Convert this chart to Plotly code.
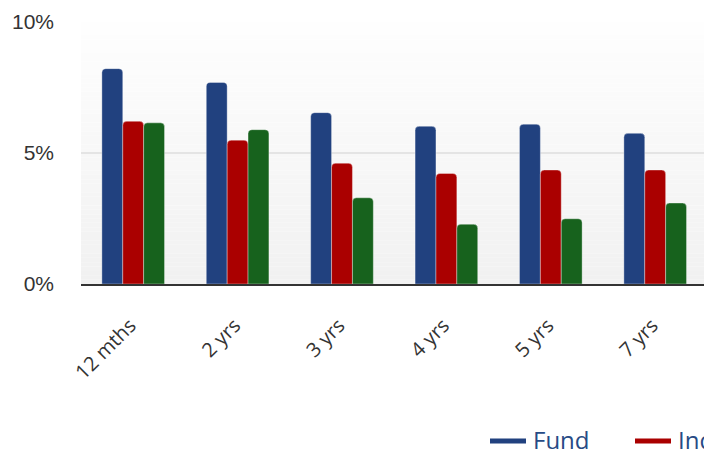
import plotly.graph_objects as go

# Annualised returns by period
periods = ["12 mths", "2 yrs", "3 yrs", "4 yrs", "5 yrs", "7 yrs"]
series_names = ["Fund", "Index", "Sector"]
fund = [8.22, 7.69, 6.54, 6.02, 6.10, 5.75]
index = [6.21, 5.49, 4.61, 4.22, 4.35, 4.35]
sector = [6.15, 5.89, 3.29, 2.28, 2.49, 3.09]
y_ticks = [0, 5, 10]
y_tick_text = ["0%", "5%", "10%"]

colors = ["#21417f", "#aa0000", "#17621d"]
values = [fund, index, sector]

W, H = 704, 454
L, T, B = 81, 22, 170
plot_w = W - L
plot_h = H - T - B

fig = go.Figure()
for name, vals, col in zip(series_names, values, colors):
    fig.add_trace(go.Bar(
        x=periods, y=vals, name=name, showlegend=False,
        marker=dict(color=col, line=dict(color="rgba(255,255,255,0.35)", width=1)),
        hoverinfo="skip",
    ))

# soft vertical gradient behind the plot area
shapes = []
n = 60
for i in range(n):
    t = i / (n - 1)
    v = round(0xfe - (0xfe - 0xf1) * t)
    c = f"rgb({v},{v},{v})"
    shapes.append(dict(
        type="rect", xref="x domain", yref="y domain",
        x0=0, x1=1, y0=1 - (i + 1) / n, y1=1 - i / n,
        fillcolor=c, line=dict(width=0), layer="below",
    ))

# legend drawn as line swatches with labels
annotations = []
leg_y = (T + plot_h - 441) / plot_h
txt_y = (T + plot_h - 440) / plot_h
start_px, step_px = 490, 145
for i, (name, col) in enumerate(zip(series_names, colors)):
    x0 = start_px + i * step_px
    shapes.append(dict(
        type="line", xref="paper", yref="paper",
        x0=(x0 - L) / plot_w, x1=(x0 + 36 - L) / plot_w, y0=leg_y, y1=leg_y,
        line=dict(color=col, width=5),
    ))
    annotations.append(dict(
        xref="paper", yref="paper", x=(x0 + 42 - L) / plot_w, y=txt_y,
        xanchor="left", yanchor="middle", text=name, showarrow=False,
        borderpad=0,
        font=dict(family="Open Sans", size=24, color="#274b85"),
    ))

fig.update_layout(
    width=W, height=H,
    margin=dict(l=L, r=0, t=T, b=B, pad=0),
    paper_bgcolor="white",
    plot_bgcolor="rgba(0,0,0,0)",
    barmode="group", bargap=0.4, bargroupgap=0,
    barcornerradius=4,
    shapes=shapes, annotations=annotations,
    showlegend=False,
)
fig.update_xaxes(
    range=[-0.5, -0.5 + plot_w / 104.4],
    showgrid=False, showline=True, linecolor="#333333", linewidth=2,
    tickangle=-45, ticks="", ticklabelstandoff=20, ticklabelshift=-3,
    tickfont=dict(family="Open Sans", size=20, color="#333333"),
)
fig.update_yaxes(
    range=[0, 10], tickvals=y_ticks, ticktext=y_tick_text,
    showgrid=True, gridcolor="#e4e4e4", gridwidth=2,
    zeroline=False, showline=False, ticks="",
    ticklabelstandoff=26,
    tickfont=dict(family="Liberation Sans", size=21, color="#333333"),
)

fig.write_html("out.html")
